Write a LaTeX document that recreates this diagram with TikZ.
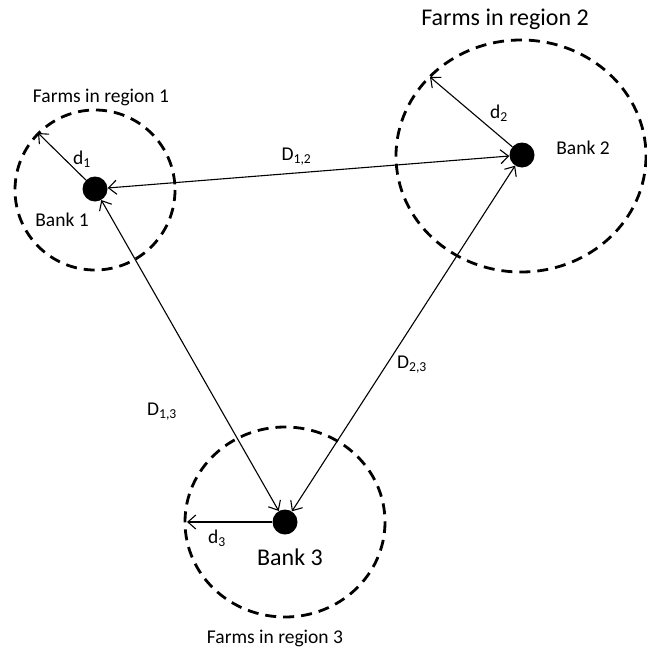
\documentclass[tikz,border=0pt]{standalone}
\usepackage{fontspec}
\setmainfont{Carlito}
\usetikzlibrary{arrows.meta}

\begin{document}
\begin{tikzpicture}[x=1pt, y=-1pt, >={Straight Barb[length=8pt, width=14pt]},
    bank/.style={circle, fill=black, minimum size=25pt, inner sep=0pt},
    region/.style={line width=2.8pt, dash pattern=on 11pt off 7pt},
    link/.style={<->, line width=1.1pt},
    reach/.style={->, line width=1.1pt},
    small/.style={font=\fontsize{19.5}{22}\selectfont},
    big/.style={font=\fontsize{24}{27}\selectfont}]
    \useasboundingbox (0,0) rectangle (647,648);

    % Regions
    \draw[region] (95,190) circle [radius=80];
    \draw[region] (521,156) ellipse [x radius=125, y radius=116];
    \draw[region] (285,522) ellipse [x radius=100, y radius=95];

    % Banks
    \node[bank] (Bank-1) at (95,189) {};
    \node[bank] (Bank-2) at (522,155) {};
    \node[bank] (Bank-3) at (285,522) {};

    % Edges of the regions
    \coordinate (Edge-1) at (38,133);
    \coordinate (Edge-2) at (430,77);
    \coordinate (Edge-3) at (187,522);

    % Labels
    \node[small] (Region-1) at (101,97) {Farms in region 1};
    \node[big] (Region-2) at (505,19) {Farms in region 2};
    \node[small] (Region-3) at (275,638) {Farms in region 3};
    \node[small] (Name-1) at (62,220) {Bank 1};
    \node[small] (Name-2) at (583,148) {Bank 2};
    \node[big] (Name-3) at (290,557) {Bank 3};

    % Radii
    \foreach \i in {1,...,3}
    {
        \draw[reach] (Bank-\i) -- (Edge-\i);
    }
    \node[small] (d-1) at (82,159) {d\textsubscript{1}};
    \node[small] (d-2) at (499,113) {d\textsubscript{2}};
    \node[small] (d-3) at (217,538) {d\textsubscript{3}};

    % Distances between banks
    \draw[link] (Bank-1) -- (Bank-2) node[small, pos=0.47, above=4pt] (D-12) {D\textsubscript{1,2}};
    \draw[link] (Bank-1) -- (Bank-3);
    \draw[link] (Bank-2) -- (Bank-3);
    \node[small] (D-13) at (162,412) {D\textsubscript{1,3}};
    \node[small] (D-23) at (412,365) {D\textsubscript{2,3}};
\end{tikzpicture}
\end{document}
